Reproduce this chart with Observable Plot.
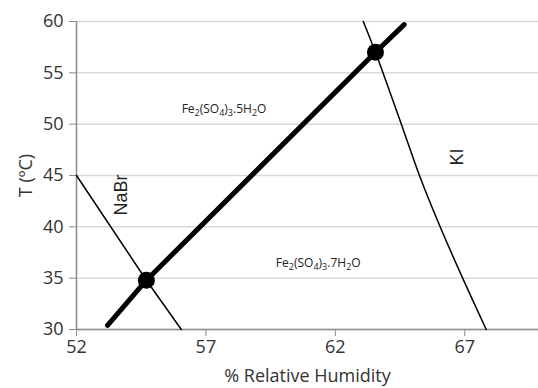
<!DOCTYPE html>
<html>
<head>
<meta charset="utf-8">
<script src="https://cdn.jsdelivr.net/npm/d3@7"></script>
<script src="https://cdn.jsdelivr.net/npm/@observablehq/plot@0.6"></script>
<style>
  html, body { margin: 0; padding: 0; background: #fff; }
  #chart { width: 538px; height: 388px; }
</style>
</head>
<body>
<div id="chart"></div>
<script>
// Tick labels
const xTicks = [52, 57, 62, 67];
const yTicks = [30, 35, 40, 45, 50, 55, 60];

// Transition line Fe2(SO4)3.5H2O <-> 7H2O (thick)
const feRH = [53.2, 54.7, 63.55, 64.66];
const feT  = [30.4, 34.8, 57.0, 59.7];

// NaBr saturated-salt line
const nabrRH = [52.0, 54.7, 56.05];
const nabrT  = [45.0, 34.8, 30.0];

// KI saturated-salt line
const kiRH = [63.08, 63.55, 64.55, 65.25, 66.05, 66.92, 67.83];
const kiT  = [60.0, 57.0, 50.0, 45.0, 40.0, 35.0, 30.0];

// Intersection points
const ptRH = [54.7, 63.55];
const ptT  = [34.8, 57.0];

// Labels
const labelText = ["Fe2(SO4)3.5H2O", "Fe2(SO4)3.7H2O"];
const labelRH = [57.7, 61.34];
const labelT  = [51.5, 36.45];
const saltText = ["NaBr", "KI"];
const saltRH = [53.72, 66.71];
const saltT  = [43.1, 46.8];

const fe = feRH.map((x, i) => ({x, y: feT[i]}));
const nabr = nabrRH.map((x, i) => ({x, y: nabrT[i]}));
const ki = kiRH.map((x, i) => ({x, y: kiT[i]}));
const pts = ptRH.map((x, i) => ({x, y: ptT[i]}));
const labels = labelText.map((t, i) => ({t, x: labelRH[i], y: labelT[i]}));
const salts = saltText.map((t, i) => ({t, x: saltRH[i], y: saltT[i]}));

const plot = Plot.plot({
  width: 538,
  height: 388,
  marginLeft: 76,
  marginRight: 0,
  marginTop: 21,
  marginBottom: 59,
  style: {fontFamily: "'Open Sans', sans-serif", fontSize: "18px", color: "#333", background: "#fff"},
  x: {domain: [52, 69.85]},
  y: {domain: [30, 60]},
  marks: [
    Plot.gridY(yTicks, {stroke: "#d9d9d9", strokeOpacity: 1, strokeWidth: 1.5}),
    Plot.ruleX([52], {stroke: "#8c8c8c", strokeWidth: 1.5}),
    Plot.ruleY([30], {stroke: "#8c8c8c", strokeWidth: 1.5}),
    Plot.axisX({ticks: xTicks, tickSize: 7, tickPadding: 4, stroke: "#8c8c8c", fill: "#333", fontSize: 18,
      label: "% Relative Humidity", labelAnchor: "center", labelArrow: "none", labelOffset: 52}),
    Plot.axisY({ticks: yTicks, tickSize: 7, tickPadding: 6, stroke: "#8c8c8c", fill: "#333", fontSize: 18,
      label: "T (ºC)", labelAnchor: "center", labelArrow: "none", labelOffset: 57}),
    Plot.line(nabr, {x: "x", y: "y", stroke: "black", strokeWidth: 1.5}),
    Plot.line(ki, {x: "x", y: "y", stroke: "black", strokeWidth: 1.5, curve: "catmull-rom"}),
    Plot.line(fe, {x: "x", y: "y", stroke: "black", strokeWidth: 5, strokeLinecap: "round"}),
    Plot.dot(pts, {x: "x", y: "y", r: 8.5, fill: "black"}),
    Plot.text(labels, {x: "x", y: "y", text: "t", fontSize: 12, fill: "#222", fontFamily: "'Open Sans', sans-serif"}),
    Plot.text(salts, {x: "x", y: "y", text: "t", fontSize: 18, rotate: -90, fill: "#222", fontFamily: "'Liberation Sans', Arial, sans-serif"})
  ]
});

// Render chemical formulas with subscripts
d3.select(plot).selectAll("text").each(function() {
  const s = this.textContent;
  if (!/^Fe2\(SO4\)3\.\dH2O$/.test(s)) return;
  const parts = s.match(/[A-Za-z(\)\.]+|\d/g);
  const el = d3.select(this);
  el.text(null);
  let prevSub = false;
  parts.forEach((p, i) => {
    const isDigit = /^\d$/.test(p);
    const isSub = isDigit && !(i > 0 && parts[i - 1].endsWith("."));
    const t = el.append("tspan").text(p);
    if (isSub) {
      t.attr("font-size", "75%").attr("dy", prevSub ? null : "3");
    } else if (prevSub) {
      t.attr("dy", "-3");
    }
    prevSub = isSub;
  });
});

document.getElementById("chart").appendChild(plot);
</script>
</body>
</html>
